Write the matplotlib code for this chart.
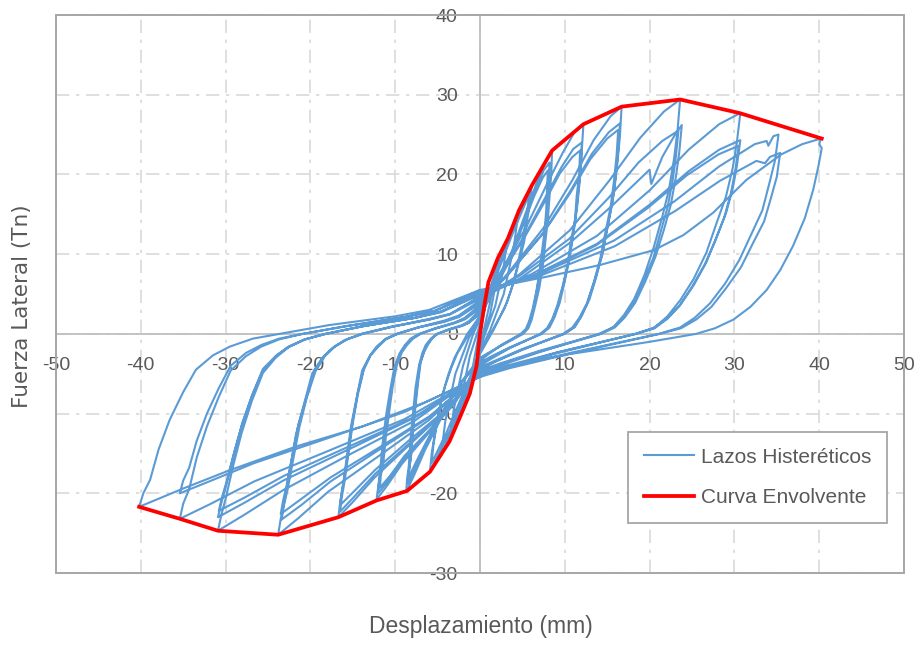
import matplotlib
matplotlib.use("Agg")
import matplotlib.pyplot as plt
from matplotlib.patches import Rectangle

# ---- Envelope (backbone) curve ----
env_x = [-40.2, -35.4, -30.9, -23.8, -16.7, -12.2, -8.6, -5.9, -3.6, -2.3, -1.2, -0.4,
         0.0, 0.5, 1.0, 2.1, 3.3, 4.6, 6.1, 8.5, 12.2, 16.7, 23.6, 30.6, 40.3]
env_y = [-21.7, -23.2, -24.7, -25.2, -23.0, -20.9, -19.7, -17.3, -13.5, -10.3, -7.5, -4.0,
         0.0, 3.5, 6.5, 9.5, 12.0, 15.5, 18.6, 23.0, 26.3, 28.5, 29.4, 27.7, 24.5]

# ---- Hysteresis cycles, in test order (displacement mm, force Tn) ----
cycle_01 = [(0, 0), (0.8, 4.5), (1.5, 6.0), (1.2, 4.0), (0.6, 1.2), (0, -1.5), (-0.6, -4.5),
            (-1.2, -7.0), (-1.0, -5.0), (-0.4, -1.5), (0, 0.8)]
cycle_02 = [(0, 0.8), (1.0, 5.0), (2.2, 9.2), (1.9, 6.5), (1.2, 2.5), (0, -1.8), (-1.2, -6.0),
            (-2.3, -10.0), (-2.0, -7.0), (-1.2, -2.8), (0, 1.2)]
cycle_03 = [(0, 1.2), (1.5, 6.5), (3.2, 11.8), (2.8, 8.5), (1.8, 3.5), (0.6, 0), (0, -2.0),
            (-1.5, -7.5), (-3.5, -13.2), (-3.1, -9.5), (-2.0, -4.0), (-0.8, 0), (0, 1.8)]
cycle_04 = [(0, 1.8), (2.0, 8.0), (4.5, 15.0), (4.0, 11.0), (2.8, 5.0), (1.2, 0.5), (0, -2.3),
            (-2.0, -8.5), (-4.6, -15.3), (-4.1, -11.0), (-2.9, -5.0), (-1.3, -0.5), (0, 2.0)]
cycle_05 = [(0, 2.0), (1.5, 6.5), (3.5, 12.5), (6.1, 18.6), (5.9, 16.5), (5.6, 14.5), (5.2, 11.5),
            (4.6, 9.0), (3.9, 6.2), (3.2, 4.0), (1.6, 0.5), (0, -2.5), (-1.5, -6.5), (-3.5, -12.0),
            (-5.9, -17.3), (-5.7, -15.0), (-5.4, -13.0), (-4.9, -10.0), (-4.4, -7.5), (-3.7, -5.0),
            (-3.0, -3.0), (-1.5, 0), (0, 2.2)]
cycle_06 = [(0, 2.2), (2.0, 7.5), (4.0, 13.0), (5.8, 17.5), (5.6, 15.5), (5.3, 13.5), (4.8, 10.5),
            (4.3, 8.0), (3.6, 5.3), (2.9, 3.2), (1.4, 0.3), (0, -2.4), (-2.0, -7.5), (-4.0, -12.5),
            (-5.7, -16.2), (-5.5, -14.0), (-5.2, -12.0), (-4.7, -9.0), (-4.1, -6.5), (-3.4, -4.3),
            (-2.7, -2.5), (-1.3, 0), (0, 2.3)]
cycle_07 = [(0, 2.3), (1.7, 5.5), (3.8, 10.5), (5.5, 15.5), (6.8, 19.3), (7.8, 21.8), (8.5, 23.0),
            (8.4, 20.0), (8.2, 17.3), (8.0, 14.3), (7.7, 11.5), (7.4, 8.5), (7.0, 5.8), (6.5, 3.5),
            (6.1, 1.8), (5.7, 0.7), (5.1, 0), (2.5, -1.5), (0.8, -2.5), (0, -3.0), (-2.2, -6.0),
            (-4.3, -10.0), (-6.5, -14.6), (-7.8, -17.8), (-8.7, -19.8), (-8.6, -18.2), (-8.4, -16.6),
            (-8.2, -13.3), (-7.9, -9.9), (-7.6, -6.7), (-7.2, -4.0), (-6.8, -2.4), (-6.4, -1.4),
            (-5.8, -0.6), (-5.1, 0), (-3.8, 0.5), (-2.2, 1.0), (-1.3, 1.4), (0, 2.5)]
cycle_08 = [(0, 2.5), (1.6, 5.3), (3.7, 10.0), (5.3, 14.6), (6.6, 18.2), (7.5, 20.5), (8.2, 21.5),
            (8.1, 18.7), (8.0, 16.1), (7.7, 13.3), (7.5, 10.8), (7.1, 8.0), (6.7, 5.4), (6.3, 3.2),
            (5.9, 1.7), (5.5, 0.6), (4.9, 0), (2.5, -1.4), (0.8, -2.6), (0, -3.2), (-2.1, -6.0),
            (-4.3, -9.6), (-6.4, -13.9), (-7.7, -16.9), (-8.5, -18.8), (-8.4, -17.3), (-8.2, -15.8),
            (-8.0, -12.6), (-7.7, -9.4), (-7.4, -6.4), (-7.1, -3.8), (-6.6, -2.3), (-6.2, -1.3),
            (-5.7, -0.6), (-5.0, 0), (-3.7, 0.5), (-2.1, 1.0), (-1.3, 1.4), (0, 2.7)]
cycle_09 = [(0, 2.7), (1.6, 5.2), (3.6, 9.5), (5.2, 14.0), (6.4, 17.3), (7.4, 19.6), (8.0, 20.5),
            (7.9, 17.8), (7.8, 15.4), (7.6, 12.7), (7.3, 10.3), (7.0, 7.6), (6.6, 5.1), (6.2, 3.1),
            (5.8, 1.6), (5.4, 0.6), (4.8, 0), (2.4, -1.5), (0.8, -2.7), (0, -3.4), (-2.1, -6.0),
            (-4.2, -9.4), (-6.3, -13.5), (-7.6, -16.2), (-8.4, -18.0), (-8.3, -16.6), (-8.1, -15.1),
            (-7.9, -12.1), (-7.6, -9.0), (-7.3, -6.1), (-7.0, -3.6), (-6.6, -2.2), (-6.1, -1.3),
            (-5.6, -0.5), (-5.0, 0), (-3.6, 0.6), (-2.1, 1.1), (-1.3, 1.6), (0, 3.0)]
cycle_10 = [(0, 3.0), (2.4, 7.7), (5.5, 13.5), (7.9, 18.8), (9.8, 22.8), (11.2, 25.4), (12.2, 26.3),
            (12.0, 22.9), (11.8, 19.7), (11.5, 16.3), (11.1, 13.2), (10.6, 9.7), (10.0, 6.6),
            (9.4, 3.9), (8.8, 2.1), (8.2, 0.8), (7.3, 0), (3.7, -1.6), (1.2, -2.9), (0, -3.6),
            (-3.1, -8.8), (-6.1, -12.5), (-9.2, -16.3), (-11.0, -19.1), (-12.2, -20.8), (-12.0, -19.1),
            (-11.8, -17.5), (-11.5, -13.9), (-11.1, -10.4), (-10.6, -7.1), (-10.1, -4.2), (-9.5, -2.5),
            (-8.9, -1.5), (-8.2, -0.6), (-7.2, 0), (-5.4, 0.6), (-3.1, 1.3), (-1.8, 1.8), (0, 3.2)]
cycle_11 = [(0, 3.2), (2.4, 7.4), (5.4, 12.6), (7.8, 17.3), (9.6, 20.9), (11.0, 23.2), (12.0, 24.0),
            (11.9, 20.9), (11.6, 18.0), (11.3, 14.9), (10.9, 12.0), (10.4, 8.9), (9.8, 6.0),
            (9.2, 3.6), (8.6, 1.9), (8.0, 0.7), (7.2, 0), (3.6, -1.7), (1.2, -3.0), (0, -3.8),
            (-3.0, -8.7), (-6.0, -12.2), (-9.0, -15.8), (-10.8, -18.4), (-12.0, -20.0), (-11.9, -18.4),
            (-11.6, -16.8), (-11.3, -13.4), (-10.9, -10.0), (-10.4, -6.8), (-10.0, -4.0), (-9.4, -2.4),
            (-8.8, -1.4), (-8.0, -0.6), (-7.1, 0), (-5.3, 0.7), (-3.0, 1.4), (-1.8, 1.9), (0, 3.4)]
cycle_12 = [(0, 3.4), (2.4, 7.3), (5.3, 12.2), (7.7, 16.7), (9.4, 20.1), (10.9, 22.2), (11.8, 23.0),
            (11.7, 20.0), (11.4, 17.3), (11.2, 14.3), (10.7, 11.5), (10.3, 8.5), (9.7, 5.8),
            (9.1, 3.5), (8.5, 1.8), (7.9, 0.7), (7.1, 0), (3.5, -1.8), (1.2, -3.2), (0, -4.0),
            (-3.0, -8.6), (-5.9, -12.0), (-8.9, -15.3), (-10.6, -17.8), (-11.8, -19.3), (-11.7, -17.8),
            (-11.4, -16.2), (-11.1, -12.9), (-10.7, -9.7), (-10.3, -6.6), (-9.8, -3.9), (-9.2, -2.3),
            (-8.6, -1.4), (-7.9, -0.6), (-7.0, 0), (-5.2, 0.7), (-3.0, 1.4), (-1.8, 2.0), (0, 3.6)]
cycle_13 = [(0, 3.6), (3.3, 7.6), (7.5, 13.3), (10.9, 19.3), (13.4, 24.3), (15.4, 27.3), (16.7, 28.5),
            (16.5, 24.8), (16.2, 21.4), (15.8, 17.7), (15.2, 14.3), (14.5, 10.5), (13.7, 7.1),
            (12.9, 4.3), (12.0, 2.3), (11.2, 0.9), (10.0, 0), (5.0, -1.9), (1.7, -3.4), (0, -4.2),
            (-4.2, -9.8), (-8.4, -14.0), (-12.5, -18.1), (-15.0, -21.1), (-16.7, -23.0), (-16.5, -21.2),
            (-16.2, -19.3), (-15.7, -15.4), (-15.2, -11.5), (-14.5, -7.8), (-13.9, -4.6), (-13.0, -2.8),
            (-12.2, -1.6), (-11.2, -0.7), (-9.9, 0), (-7.3, 0.8), (-4.2, 1.5), (-2.5, 2.1), (0, 3.8)]
cycle_14 = [(0, 3.8), (3.3, 7.4), (7.4, 12.6), (10.7, 18.0), (13.2, 22.6), (15.2, 25.3), (16.5, 26.4),
            (16.3, 23.0), (16.0, 19.8), (15.6, 16.4), (15.0, 13.2), (14.4, 9.8), (13.5, 6.6),
            (12.7, 4.0), (11.9, 2.1), (11.1, 0.8), (9.9, 0), (5.0, -2.0), (1.7, -3.5), (0, -4.4),
            (-4.1, -9.8), (-8.3, -13.7), (-12.4, -17.6), (-14.9, -20.5), (-16.5, -22.3), (-16.3, -20.5),
            (-16.0, -18.7), (-15.5, -14.9), (-15.0, -11.2), (-14.4, -7.6), (-13.7, -4.5), (-12.9, -2.7),
            (-12.0, -1.6), (-11.1, -0.7), (-9.7, 0), (-7.3, 0.8), (-4.1, 1.6), (-2.5, 2.2), (0, 4.0)]
cycle_15 = [(0, 4.0), (3.3, 7.5), (7.3, 12.4), (10.6, 17.6), (13.0, 21.9), (15.0, 24.5), (16.3, 25.6),
            (16.1, 22.3), (15.8, 19.2), (15.4, 15.9), (14.8, 12.8), (14.2, 9.5), (13.4, 6.4),
            (12.6, 3.8), (11.7, 2.0), (10.9, 0.8), (9.8, 0), (4.9, -2.0), (1.6, -3.6), (0, -4.5),
            (-4.1, -9.6), (-8.3, -13.3), (-12.4, -17.1), (-14.9, -19.8), (-16.5, -21.5), (-16.3, -19.8),
            (-16.0, -18.1), (-15.5, -14.4), (-15.0, -10.8), (-14.4, -7.3), (-13.7, -4.3), (-12.9, -2.6),
            (-12.0, -1.5), (-11.1, -0.6), (-9.7, 0), (-7.3, 0.8), (-4.1, 1.7), (-2.5, 2.3), (0, 4.2)]
cycle_16 = [(0, 4.2), (4.7, 7.5), (10.6, 13.0), (15.3, 19.3), (18.9, 24.6), (21.7, 27.9), (23.6, 29.4),
            (23.3, 25.6), (22.9, 22.1), (22.3, 18.2), (21.5, 14.7), (20.5, 10.9), (19.4, 7.4),
            (18.2, 4.4), (17.0, 2.4), (15.8, 0.9), (14.2, 0), (7.1, -2.1), (2.4, -3.7), (0, -4.6),
            (-6.0, -10.8), (-11.9, -15.3), (-17.9, -19.8), (-21.4, -23.1), (-23.8, -25.2), (-23.5, -23.2),
            (-23.1, -21.2), (-22.4, -16.9), (-21.7, -12.6), (-20.7, -8.6), (-19.8, -5.0), (-18.6, -3.0),
            (-17.4, -1.8), (-16.0, -0.8), (-14.0, 0), (-10.5, 0.9), (-6.0, 1.8), (-3.6, 2.4), (0, 4.4)]
cycle_17 = [(0, 4.4), (4.8, 7.0), (10.7, 11.5), (15.5, 16.0), (20.0, 20.6), (20.2, 18.8), (21.5, 22.2),
            (23.0, 25.0), (23.8, 26.2), (23.5, 22.8), (23.1, 19.7), (22.5, 16.2), (21.7, 13.1),
            (20.7, 9.7), (19.5, 6.6), (18.3, 3.9), (17.1, 2.1), (15.9, 0.8), (14.3, 0), (7.1, -2.2),
            (2.4, -3.8), (0, -4.8), (-5.9, -10.4), (-11.7, -14.4), (-17.6, -18.5), (-21.1, -21.5),
            (-23.4, -23.3), (-23.1, -21.4), (-22.7, -19.6), (-22.0, -15.6), (-21.3, -11.7), (-20.4, -7.9),
            (-19.4, -4.7), (-18.3, -2.8), (-17.1, -1.6), (-15.7, -0.7), (-13.8, 0), (-10.3, 0.9),
            (-5.9, 1.8), (-3.5, 2.5), (0, 4.6)]
cycle_18 = [(0, 4.6), (4.7, 7.3), (10.5, 11.9), (15.2, 17.1), (18.7, 21.5), (21.5, 24.2), (23.4, 25.5),
            (23.1, 22.2), (22.7, 19.1), (22.1, 15.8), (21.3, 12.8), (20.4, 9.4), (19.2, 6.4),
            (18.0, 3.8), (16.9, 2.0), (15.7, 0.8), (14.0, 0), (7.0, -2.3), (2.3, -4.0), (0, -5.0),
            (-5.9, -10.3), (-11.8, -14.2), (-17.6, -18.0), (-21.2, -20.8), (-23.5, -22.6), (-23.2, -20.8),
            (-22.8, -19.0), (-22.1, -15.1), (-21.4, -11.3), (-20.4, -7.7), (-19.5, -4.5), (-18.3, -2.7),
            (-17.2, -1.6), (-15.7, -0.7), (-13.9, 0), (-10.3, 0.9), (-5.9, 1.9), (-3.5, 2.5), (0, 4.7)]
cycle_19 = [(0, 4.7), (6.1, 7.5), (13.8, 12.3), (20.0, 18.0), (24.6, 23.1), (28.2, 26.3), (30.7, 27.7),
            (30.3, 24.1), (29.8, 20.8), (29.0, 17.2), (27.9, 13.9), (26.7, 10.2), (25.2, 6.9),
            (23.6, 4.2), (22.1, 2.2), (20.6, 0.8), (18.4, 0), (9.2, -2.3), (3.1, -4.0), (0, -5.0),
            (-7.7, -10.9), (-15.5, -15.2), (-23.2, -19.6), (-27.8, -22.7), (-30.9, -24.7), (-30.5, -22.7),
            (-30.0, -20.7), (-29.1, -16.5), (-28.1, -12.4), (-26.9, -8.4), (-25.6, -4.9), (-24.1, -3.0),
            (-22.6, -1.7), (-20.7, -0.7), (-18.2, 0), (-13.6, 1.0), (-7.7, 2.0), (-4.6, 2.7), (0, 4.9)]
cycle_20 = [(0, 4.9), (6.1, 7.2), (13.8, 11.3), (20.0, 16.2), (24.6, 20.4), (28.2, 23.1), (30.7, 24.3),
            (30.3, 21.1), (29.8, 18.2), (29.0, 15.1), (27.9, 12.2), (26.7, 9.0), (25.2, 6.1),
            (23.6, 3.6), (22.1, 1.9), (20.6, 0.7), (18.4, 0), (9.2, -2.3), (3.1, -4.2), (0, -5.2),
            (-7.7, -10.5), (-15.5, -14.5), (-23.2, -18.4), (-27.8, -21.2), (-30.9, -23.0), (-30.5, -21.2),
            (-30.0, -19.3), (-29.1, -15.4), (-28.1, -11.5), (-26.9, -7.8), (-25.6, -4.6), (-24.1, -2.8),
            (-22.6, -1.6), (-20.7, -0.7), (-18.2, 0), (-13.6, 1.0), (-7.7, 2.0), (-4.6, 2.8), (0, 5.0)]
cycle_21 = [(0, 5.0), (6.1, 7.2), (13.7, 11.1), (19.8, 15.8), (24.4, 19.9), (28.1, 22.5), (30.5, 23.6),
            (30.1, 20.5), (29.6, 17.7), (28.8, 14.6), (27.8, 11.8), (26.5, 8.7), (25.0, 5.9),
            (23.5, 3.5), (22.0, 1.9), (20.4, 0.7), (18.3, 0), (9.2, -2.4), (3.1, -4.2), (0, -5.3),
            (-7.7, -10.4), (-15.4, -14.1), (-23.1, -17.8), (-27.7, -20.5), (-30.8, -22.2), (-30.4, -20.4),
            (-29.9, -18.6), (-29.0, -14.9), (-28.0, -11.1), (-26.8, -7.5), (-25.6, -4.4), (-24.0, -2.7),
            (-22.5, -1.6), (-20.6, -0.7), (-18.2, 0), (-13.6, 1.0), (-7.7, 2.0), (-4.6, 2.8), (0, 5.1)]
cycle_22 = [(0, 5.1), (7.0, 7.5), (15.8, 11.7), (22.9, 16.6), (28.2, 21.0), (32.4, 23.8), (33.8, 24.2),
            (34.0, 23.6), (34.6, 24.8), (35.2, 25.0), (34.8, 21.8), (34.1, 18.8), (33.3, 15.5),
            (32.0, 12.5), (30.6, 9.3), (28.9, 6.3), (27.1, 3.8), (25.3, 2.0), (23.6, 0.8), (21.1, 0),
            (10.6, -2.4), (3.5, -4.2), (0, -5.3), (-8.9, -10.7), (-17.7, -14.6), (-26.6, -18.5),
            (-31.9, -21.4), (-35.4, -23.2), (-35.0, -21.3), (-34.3, -19.5), (-33.4, -15.5), (-32.2, -11.6),
            (-30.8, -7.9), (-29.4, -4.6), (-27.6, -2.8), (-25.8, -1.6), (-23.7, -0.7), (-20.9, 0),
            (-15.6, 1.0), (-8.9, 2.1), (-5.3, 2.9), (0, 5.2)]
cycle_23 = [(0, 5.2), (7.1, 7.3), (15.9, 11.0), (23.0, 15.4), (28.3, 19.2), (32.6, 21.7), (33.6, 21.4),
            (34.2, 22.2), (35.4, 22.7), (35.0, 19.7), (34.3, 17.0), (33.5, 14.1), (32.2, 11.4),
            (30.8, 8.4), (29.0, 5.7), (27.3, 3.4), (25.5, 1.8), (23.7, 0.7), (21.2, 0), (10.6, -2.5),
            (3.5, -4.3), (0, -5.4), (-8.9, -9.8), (-17.7, -13.0), (-26.6, -16.2), (-31.9, -18.5),
            (-35.4, -20.0), (-35.0, -18.4), (-34.3, -16.8), (-33.4, -13.4), (-32.2, -10.0), (-30.8, -6.8),
            (-29.4, -4.0), (-27.6, -2.4), (-25.8, -1.4), (-23.7, -0.6), (-20.9, 0), (-15.6, 1.0),
            (-8.9, 2.1), (-5.3, 2.9), (0, 5.5)]
cycle_24 = [(0, 5.5), (8.0, 7.2), (14.0, 8.6), (20.5, 10.5), (24.0, 12.4), (27.5, 15.2), (31.4, 19.3),
            (35.5, 22.5), (38.0, 23.8), (40.2, 24.5), (40.0, 23.8), (40.3, 23.3), (39.9, 21.0),
            (39.3, 18.1), (38.3, 14.5), (36.9, 11.0), (35.4, 8.0), (33.8, 5.5), (31.9, 3.4),
            (29.9, 1.8), (27.7, 0.7), (25.5, 0), (20.0, -1.0), (10.2, -2.6), (2.8, -4.1), (0, -5.4),
            (-6.5, -8.6), (-13.8, -11.6), (-21.6, -14.1), (-29.5, -17.1), (-35.0, -19.4), (-40.2, -21.7),
            (-39.7, -20.0), (-38.9, -18.3), (-37.9, -14.5), (-36.6, -10.8), (-35.0, -7.3), (-33.5, -4.5),
            (-31.5, -2.7), (-29.5, -1.6), (-26.8, -0.6), (-23.6, 0), (-17.8, 1.1), (-10.0, 2.2),
            (-6.0, 3.0), (0, 5.5)]

cycles = [cycle_01, cycle_02, cycle_03, cycle_04, cycle_05, cycle_06, cycle_07, cycle_08,
          cycle_09, cycle_10, cycle_11, cycle_12, cycle_13, cycle_14, cycle_15, cycle_16,
          cycle_17, cycle_18, cycle_19, cycle_20, cycle_21, cycle_22, cycle_23, cycle_24]

loop_x = [p[0] for c in cycles for p in c]
loop_y = [p[1] for c in cycles for p in c]

x_ticks = list(range(-50, 51, 10))
y_ticks = list(range(-30, 41, 10))

TEXT = "#595959"
BLUE = "#5B9BD5"
RED = "#FF0000"

fig = plt.figure(figsize=(9.24, 6.45), dpi=100)
fig.patch.set_facecolor("white")
ax = fig.add_axes([56 / 924, 1 - 573 / 645, 848 / 924, 558 / 645])

ax.plot(loop_x, loop_y, color=BLUE, lw=1.5, solid_joinstyle="round",
        label="Lazos Histeréticos", zorder=3)
ax.plot(env_x, env_y, color=RED, lw=2.7, solid_joinstyle="round",
        label="Curva Envolvente", zorder=4)

ax.set_xlim(-50, 50)
ax.set_ylim(-30, 40)
ax.set_xticks(x_ticks)
ax.set_yticks(y_ticks)
ax.set_xticklabels([str(v) for v in x_ticks])
ax.set_yticklabels([str(v) for v in y_ticks])

# axes crossing at the origin
for side in ("left", "bottom"):
    ax.spines[side].set_position(("data", 0))
    ax.spines[side].set_color("#BFBFBF")
    ax.spines[side].set_linewidth(1.3)
    ax.spines[side].set_zorder(2)
for side in ("top", "right"):
    ax.spines[side].set_visible(False)

ax.add_patch(Rectangle((0, 0), 1, 1, transform=ax.transAxes, fill=False,
                       edgecolor="#A6A6A6", lw=1.4, clip_on=False, zorder=5))

ax.tick_params(axis="both", length=0, labelsize=14, labelcolor=TEXT)
ax.tick_params(axis="y", pad=16)
ax.tick_params(axis="x", pad=17)
for lab in ax.get_xticklabels() + ax.get_yticklabels():
    lab.set_family("Liberation Sans")

ax.grid(True, color="#D9D9D9", lw=1.2, linestyle=(0, (8, 4, 2, 4)), zorder=0)
ax.set_axisbelow(True)

fig.text(22 / 924, 1 - 306 / 645, "Fuerza Lateral (Tn)", rotation=90, ha="center",
         va="center", family="DejaVu Sans", size=15.5, color=TEXT)
fig.text(481 / 924, 1 - 627 / 645, "Desplazamiento (mm)", ha="center", va="center",
         family="Liberation Sans", size=16.5, color=TEXT)

leg = ax.legend(loc="upper left", bbox_to_anchor=(0.6745, 0.2527), frameon=True,
                fancybox=False, edgecolor="#A6A6A6", framealpha=1,
                prop={"family": "Liberation Sans", "size": 15}, labelcolor=TEXT,
                handlelength=2.4, handletextpad=0.35, labelspacing=1.05,
                borderpad=0.75, borderaxespad=0)
leg.get_frame().set_linewidth(1.3)
leg.set_zorder(6)

fig.savefig("out.png", dpi=100, facecolor="white")
